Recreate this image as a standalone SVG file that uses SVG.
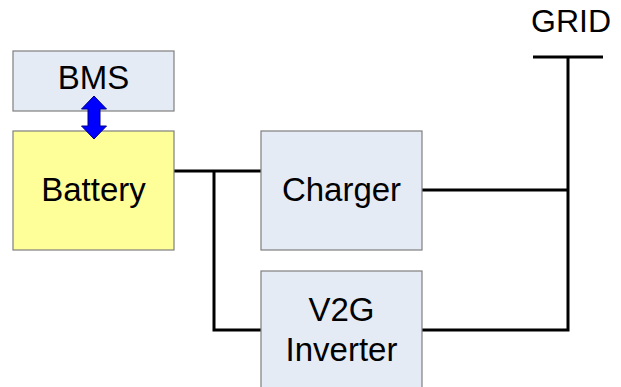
<svg xmlns="http://www.w3.org/2000/svg" width="621" height="387" viewBox="0 0 621 387">
<style>
.box{stroke:#7f7f7f;stroke-width:1.2}
.blue{fill:#e5ebf5}
.yel{fill:#ffff99}
.t{font-family:"Liberation Sans",Arial,sans-serif;font-size:33px;fill:#000;text-anchor:middle}
.w{fill:none;stroke:#000;stroke-width:3}
</style>
<rect width="621" height="387" fill="#fff"/>
<g id="connectors">
<polyline class="w" points="174,171 261,171"/>
<polyline class="w" points="214,171 214,330 261,330"/>
<polyline class="w" points="422,190 568,190"/>
<polyline class="w" points="422,330 568,330 568,57"/>
<line class="w" x1="533" y1="57" x2="603" y2="57"/>
</g>
<g id="bms"><rect class="box blue" x="13" y="51" width="161" height="60"/><text class="t" x="93.5" y="89">BMS</text></g>
<g id="battery"><rect class="box yel" x="13" y="131" width="161" height="119"/><text class="t" x="93.5" y="201">Battery</text></g>
<g id="charger"><rect class="box blue" x="261" y="131" width="161" height="119"/><text class="t" x="341.5" y="201">Charger</text></g>
<g id="v2g"><rect class="box blue" x="261" y="271" width="161" height="130"/><text class="t" x="341.5" y="321">V2G</text><text class="t" x="341.5" y="360.5">Inverter</text></g>
<g id="grid"><text class="t" x="571" y="32" style="font-size:32px">GRID</text></g>
<g id="bms-arrow"><polygon points="94,96 106.5,109 100,109 100,126 106.5,126 94,139 81.5,126 88,126 88,109 81.5,109" fill="#0000ff" stroke="#00008b" stroke-width="1"/></g>
</svg>
